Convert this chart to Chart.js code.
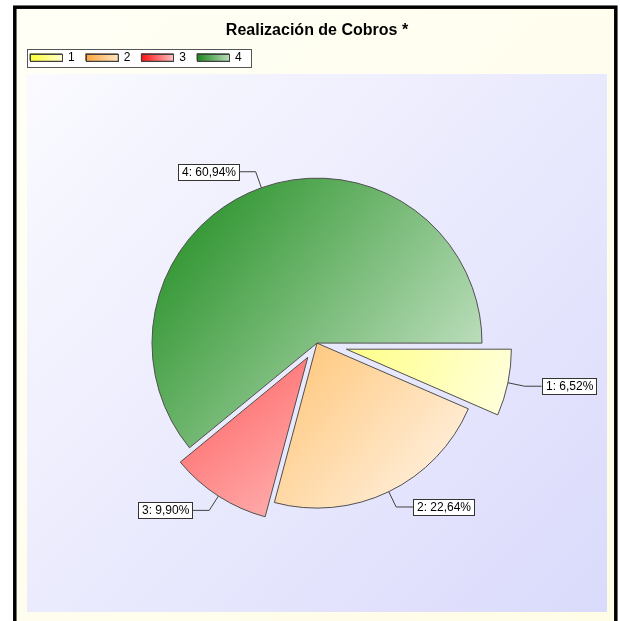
<!DOCTYPE html>
<html>
<head>
<meta charset="utf-8">
<script src="https://cdn.jsdelivr.net/npm/chart.js@4.4.1/dist/chart.umd.min.js"></script>
<style>
  html, body { margin: 0; padding: 0; background: #fff; }
  #wrap { width: 620px; height: 621px; position: relative; }
</style>
</head>
<body>
<div id="wrap"><canvas id="cobrosChart"></canvas></div>
<script>
// data
const categories = ["1", "2", "3", "4"];
const shares = [6.52, 22.64, 9.90, 60.94];

// styles
const sliceColors = [
    ["#ffff86", "#ffffe0"],
    ["#ffc474", "#fff6ec"],
    ["#ff5c5c", "#ffb4b4"],
    ["#1a8a1a", "#d8ecd8"]
];
const legendColors = [
    ["#ffff30", "#ffffd0"],
    ["#ffa43c", "#ffe4c0"],
    ["#ff1010", "#ffc0c0"],
    ["#1c881c", "#b8dcb8"]
];
const explode = [30, 0, 17, 0];
const RADIUS = 165;
const FONT = '"Liberation Sans", Arial, sans-serif';

function sliceGradient(context) {
    const chart = context.chart;
    const area = chart.chartArea;
    const i = context.dataIndex;
    const [c0, c1] = sliceColors[i];
    if (!area) return c0;
    const cx = (area.left + area.right) / 2;
    const cy = (area.top + area.bottom) / 2;
    const total = shares.reduce((a, b) => a + b, 0);
    let before = 0;
    for (let k = 0; k < i; k++) before += shares[k];
    const a0 = before / total * Math.PI * 2;
    const a1 = (before + shares[i]) / total * Math.PI * 2;
    const xs = [cx], ys = [cy];
    for (let s = 0; s <= 40; s++) {
        const a = a0 + (a1 - a0) * s / 40;
        xs.push(cx + RADIUS * Math.cos(a));
        ys.push(cy + RADIUS * Math.sin(a));
    }
    const g = chart.ctx.createLinearGradient(
        Math.min(...xs), Math.min(...ys), Math.max(...xs), Math.max(...ys));
    g.addColorStop(0, c0);
    g.addColorStop(1, c1);
    return g;
}

const framePlugin = {
    id: "frame",
    beforeDraw(chart) {
        const ctx = chart.ctx;
        ctx.save();
        ctx.fillStyle = "#ffffff";
        ctx.fillRect(0, 0, chart.width, chart.height);

        const bg = ctx.createLinearGradient(13, 0, 617, 621);
        bg.addColorStop(0, "#fffff6");
        bg.addColorStop(1, "#fffce6");
        ctx.fillStyle = bg;
        ctx.fillRect(13, 6, 604, chart.height);

        const plot = ctx.createLinearGradient(27, 74, 607, 612);
        plot.addColorStop(0, "#fafaff");
        plot.addColorStop(1, "#dadafc");
        ctx.fillStyle = plot;
        ctx.fillRect(27, 74, 580, 538);

        ctx.strokeStyle = "#000";
        ctx.lineWidth = 3.5;
        ctx.strokeRect(14.8, 7.2, 601, chart.height + 20);

        // legend frame
        const boxes = chart.legend.legendHitBoxes;
        if (boxes && boxes.length) {
            const first = boxes[0], last = boxes[boxes.length - 1];
            const x0 = first.left - 3, x1 = last.left + last.width + 9;
            const y0 = first.top - 2, y1 = first.top + first.height + 4;
            ctx.fillStyle = "#ffffff";
            ctx.fillRect(x0, y0, x1 - x0, y1 - y0);
            ctx.strokeStyle = "#555";
            ctx.lineWidth = 1;
            ctx.strokeRect(Math.round(x0) + 0.5, Math.round(y0) + 0.5, Math.round(x1 - x0), Math.round(y1 - y0));
        }
        ctx.restore();
    },
    beforeDatasetsDraw(chart) {
        // draw slices ourselves so exploded ones keep the same radius
        const ctx = chart.ctx;
        const meta = chart.getDatasetMeta(0);
        meta.data.forEach((arc, i) => {
            const mid = (arc.startAngle + arc.endAngle) / 2;
            ctx.save();
            ctx.translate(Math.cos(mid) * explode[i], Math.sin(mid) * explode[i]);
            arc.draw(ctx);
            ctx.restore();
        });
        return false;
    },
    afterDraw(chart) {
        const ctx = chart.ctx;
        ctx.save();
        // legend swatches with gradient
        const boxes = chart.legend.legendHitBoxes || [];
        boxes.forEach((hb, i) => {
            const x = hb.left, y = hb.top + 2.5, w = 32, h = 7;
            const g = ctx.createLinearGradient(x, 0, x + w, 0);
            g.addColorStop(0, legendColors[i][0]);
            g.addColorStop(1, legendColors[i][1]);
            ctx.fillStyle = g;
            ctx.fillRect(x, y, w, h);
            ctx.strokeStyle = "#404040";
            ctx.lineWidth = 1;
            ctx.strokeRect(Math.round(x) + 0.5, Math.round(y) + 0.5, w, h);
        });

        // callout labels
        const meta = chart.getDatasetMeta(0);
        const total = shares.reduce((a, b) => a + b, 0);
        ctx.font = "12px " + FONT;
        ctx.textBaseline = "middle";
        meta.data.forEach((arc, i) => {
            const mid = (arc.startAngle + arc.endAngle) / 2;
            const cos = Math.cos(mid), sin = Math.sin(mid);
            const r = arc.outerRadius + explode[i];
            const p0 = [arc.x + cos * r, arc.y + sin * r];
            const p1 = [arc.x + cos * (r + 17), arc.y + sin * (r + 17)];
            const side = cos >= 0 ? 1 : -1;
            const p2 = [p1[0] + side * 17, p1[1]];
            ctx.strokeStyle = "#404040";
            ctx.lineWidth = 1;
            ctx.beginPath();
            ctx.moveTo(p0[0], p0[1]);
            ctx.lineTo(p1[0], p1[1]);
            ctx.lineTo(p2[0], p2[1]);
            ctx.stroke();

            const pct = (shares[i] / total * 100).toFixed(2).replace(".", ",");
            const text = categories[i] + ": " + pct + "%";
            const tw = ctx.measureText(text).width;
            const bw = Math.round(tw + 7), bh = 16;
            const bx = Math.round(side > 0 ? p2[0] : p2[0] - bw);
            const by = Math.round(p2[1] - bh / 2);
            ctx.fillStyle = "#ffffff";
            ctx.fillRect(bx, by, bw, bh);
            ctx.strokeStyle = "#333";
            ctx.strokeRect(bx + 0.5, by + 0.5, bw, bh);
            ctx.fillStyle = "#000";
            ctx.textAlign = "left";
            ctx.fillText(text, bx + 4, by + bh / 2 + 1);
        });
        ctx.restore();
    }
};

const ctx = document.getElementById("cobrosChart").getContext("2d");
new Chart(ctx, {
    type: "pie",
    data: {
        labels: categories,
        datasets: [{
            data: shares,
            backgroundColor: sliceGradient,
            borderColor: "#505050",
            borderWidth: 1,
            radius: RADIUS
        }]
    },
    options: {
        responsive: true,
        maintainAspectRatio: false,
        animation: false,
        rotation: 90,
        layout: { padding: { left: 19, right: 5, top: 0, bottom: 8 } },
        plugins: {
            title: {
                display: true,
                text: "Realización de Cobros *",
                color: "#000",
                font: { family: FONT, size: 16, weight: "bold" },
                padding: { top: 21, bottom: 0 }
            },
            legend: {
                display: true,
                position: "top",
                align: "start",
                labels: {
                    boxWidth: 32,
                    boxHeight: 7,
                    padding: 11,
                    color: "#000",
                    font: { family: FONT, size: 12 },
                    generateLabels: (chart) => categories.map((c, i) => ({
                        text: c,
                        fillStyle: legendColors[i][0],
                        strokeStyle: "#404040",
                        lineWidth: 1,
                        hidden: false,
                        index: i
                    }))
                }
            },
            tooltip: { enabled: false }
        }
    },
    plugins: [framePlugin]
});
</script>
</body>
</html>
